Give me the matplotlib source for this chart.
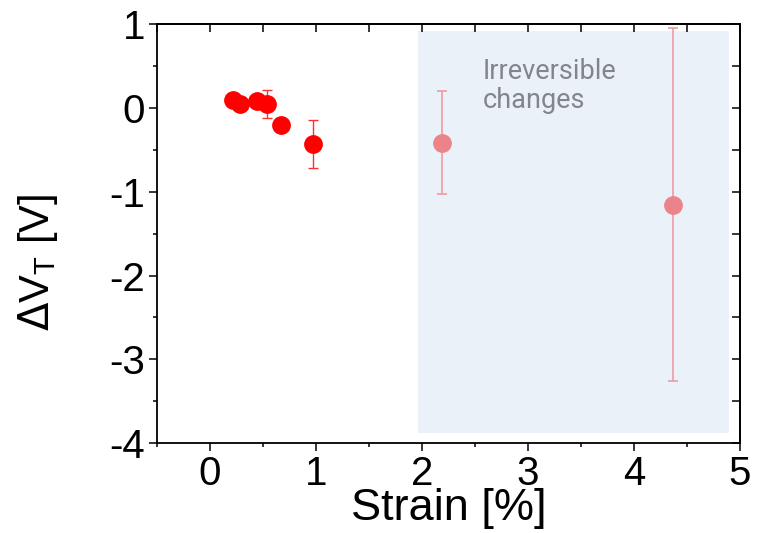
import matplotlib
matplotlib.use("Agg")
import matplotlib.pyplot as plt
from matplotlib.patches import Rectangle
from matplotlib.ticker import MultipleLocator

plt.rcParams['font.family'] = ['Liberation Sans', 'DejaVu Sans']
plt.rcParams['axes.unicode_minus'] = False

# Reversible region data
strain = [0.22, 0.29, 0.45, 0.54, 0.67, 0.97]
dvt = [0.094, 0.047, 0.086, 0.047, -0.20, -0.43]
dvt_err = [0.0, 0.0, 0.0, 0.165, 0.0, 0.29]

# Irreversible region data
strain_irr = [2.19, 4.37]
dvt_irr = [-0.415, -1.154]
dvt_irr_err = [0.61, 2.11]

# Shaded region bounds
region_x = [1.965, 4.895]
region_y = [-3.875, 0.915]

xticks = [0, 1, 2, 3, 4, 5]
yticks = [1, 0, -1, -2, -3, -4]

fig = plt.figure(figsize=(7.63, 5.33), dpi=100)
ax = fig.add_axes([0.2054, 0.1685, 0.7644, 0.7865])

ax.add_patch(Rectangle((region_x[0], region_y[0]), region_x[1] - region_x[0],
                       region_y[1] - region_y[0], facecolor='#eaf1f9',
                       edgecolor='none', zorder=0))
ax.text(2.575, 0.26, "Irreversible\nchanges", color='#80868c', fontsize=19.5,
        ha='left', va='center', linespacing=1.1,
        family=['Roboto', 'DejaVu Sans'], zorder=1)

ax.errorbar(strain, dvt, yerr=dvt_err, fmt='o', color='#ff0000', ecolor='#ff3030',
            markersize=12.5, elinewidth=1.0, capsize=3.5, capthick=1.0,
            zorder=3)
ax.errorbar(strain_irr, dvt_irr, yerr=dvt_irr_err, fmt='o', color='#ec838b',
            ecolor='#f09aa2', markersize=12.5, elinewidth=1.2, capsize=3.5,
            capthick=1.2, zorder=3)

ax.set_xlim(-0.5, 5)
ax.set_ylim(-4, 1)
ax.set_xticks(xticks)
ax.set_yticks(yticks)
ax.xaxis.set_minor_locator(MultipleLocator(0.5))
ax.yaxis.set_minor_locator(MultipleLocator(0.5))

for s in ax.spines.values():
    s.set_linewidth(1.3)

ax.tick_params(which='major', direction='out', length=5.5, width=1.1,
               labelsize=29, pad=3)
ax.tick_params(which='minor', direction='out', length=3, width=1.1)

secx = ax.secondary_xaxis('top')
secx.set_xticks(xticks)
secx.xaxis.set_minor_locator(MultipleLocator(0.5))
secx.tick_params(which='both', direction='in', length=5.5, width=1.1, labeltop=False)
secx.spines['top'].set_linewidth(1.3)
secy = ax.secondary_yaxis('right')
secy.set_yticks(yticks)
secy.yaxis.set_minor_locator(MultipleLocator(0.5))
secy.tick_params(which='both', direction='in', length=5.5, width=1.1, labelright=False)
secy.spines['right'].set_linewidth(1.3)

ax.set_xlabel("Strain [%]", fontsize=32.5, labelpad=-3.5)
ax.set_ylabel(r"$\Delta$V$_\mathregular{T}$ [V]", fontsize=30)
ax.yaxis.set_label_coords(-0.165, 0.43)

fig.savefig("out.png", dpi=100)
